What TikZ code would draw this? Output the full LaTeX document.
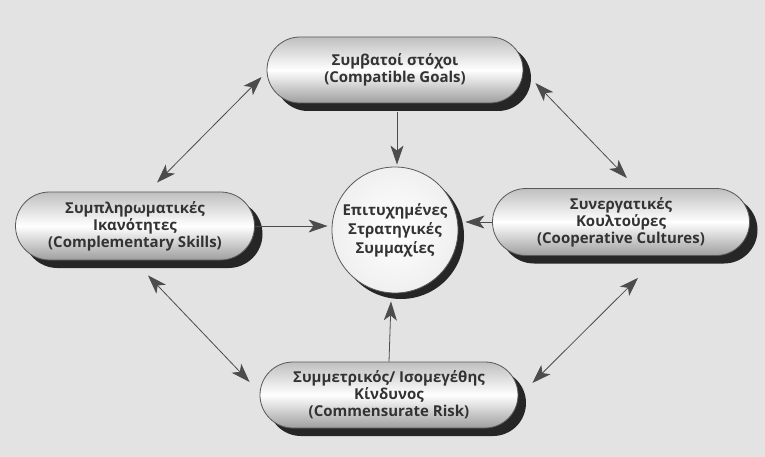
\documentclass[tikz,border=0pt]{standalone}
\usepackage{fontspec}
\setmainfont{Open Sans}
\usetikzlibrary{shapes.misc,shadows,arrows.meta,calc}
\begin{document}
\begin{tikzpicture}[x=1pt,y=-1pt,
  pill/.style={rounded rectangle, draw=black!65, line width=0.8pt,
    top color=black!25, bottom color=black!38, middle color=white,
    minimum width=#1, minimum height=66pt, inner sep=0pt, align=center,
    text=black!80, font=\fontsize{15}{17}\selectfont\bfseries,
    drop shadow={shadow xshift=8pt, shadow yshift=-8pt, fill=black!85, opacity=1}},
  pill/.default=256pt,
  hub/.style={circle, draw=black!65, line width=0.8pt, inner color=white, outer color=black!6,
    minimum size=126pt, inner sep=0pt, align=center,
    text=black!80, font=\fontsize{15}{19}\selectfont\bfseries,
    drop shadow={shadow xshift=6pt, shadow yshift=-6pt, fill=black!85, opacity=1}},
  conn/.style={draw=black!70, line width=0.8pt, -{Stealth[length=19pt,width=13pt,inset=5pt]}},
  biconn/.style={draw=black!70, line width=0.8pt, {Stealth[length=19pt,width=13pt,inset=5pt]}-{Stealth[length=19pt,width=13pt,inset=5pt]}}
]
\fill[black!11] (0,0) rectangle (765,457);
\useasboundingbox (0,0) rectangle (765,457);

\node[pill=256pt] (top) at (395,70) {Συμβατοί στόχοι\\(Compatible Goals)};
\node[pill=239pt, minimum height=68pt] (left) at (135,226) {Συμπληρωματικές\\Ικανότητες\\(Complementary Skills)};
\node[pill=257pt, minimum height=67pt] (right) at (621,222) {Συνεργατικές\\Κουλτούρες\\(Cooperative Cultures)};
\node[pill=258pt] (bottom) at (389,395) {Συμμετρικός/ Ισομεγέθης\\Κίνδυνος\\(Commensurate Risk)};
\node[hub] (c) at (395,230) {Επιτυχημένες\\Στρατηγικές\\Συμμαχίες};

\draw[conn] ($(top.south)+(2,9)$) -- ($(c.north)+(2,-2)$);
\draw[conn] (left.east) -- ($(c.west |- left.east)+(-4,0)$);
\draw[conn] (right.west) -- ($(c.east |- right.west)+(7,0)$);
\draw[conn] (bottom.north) -- ($(c.south)+(-4,8)$);

\draw[biconn] ($(top.west)+(-5,7)$) -- ($(left.north)+(22,-9)$);
\draw[biconn] ($(top.east)+(12,13)$) -- ($(right.north)+(6,-10)$);
\draw[biconn] ($(left.south)+(13,15)$) -- ($(bottom.west)+(-10,-13)$);
\draw[biconn] ($(right.south)+(17,22)$) -- ($(bottom.east)+(14,-12)$);
\end{tikzpicture}
\end{document}
